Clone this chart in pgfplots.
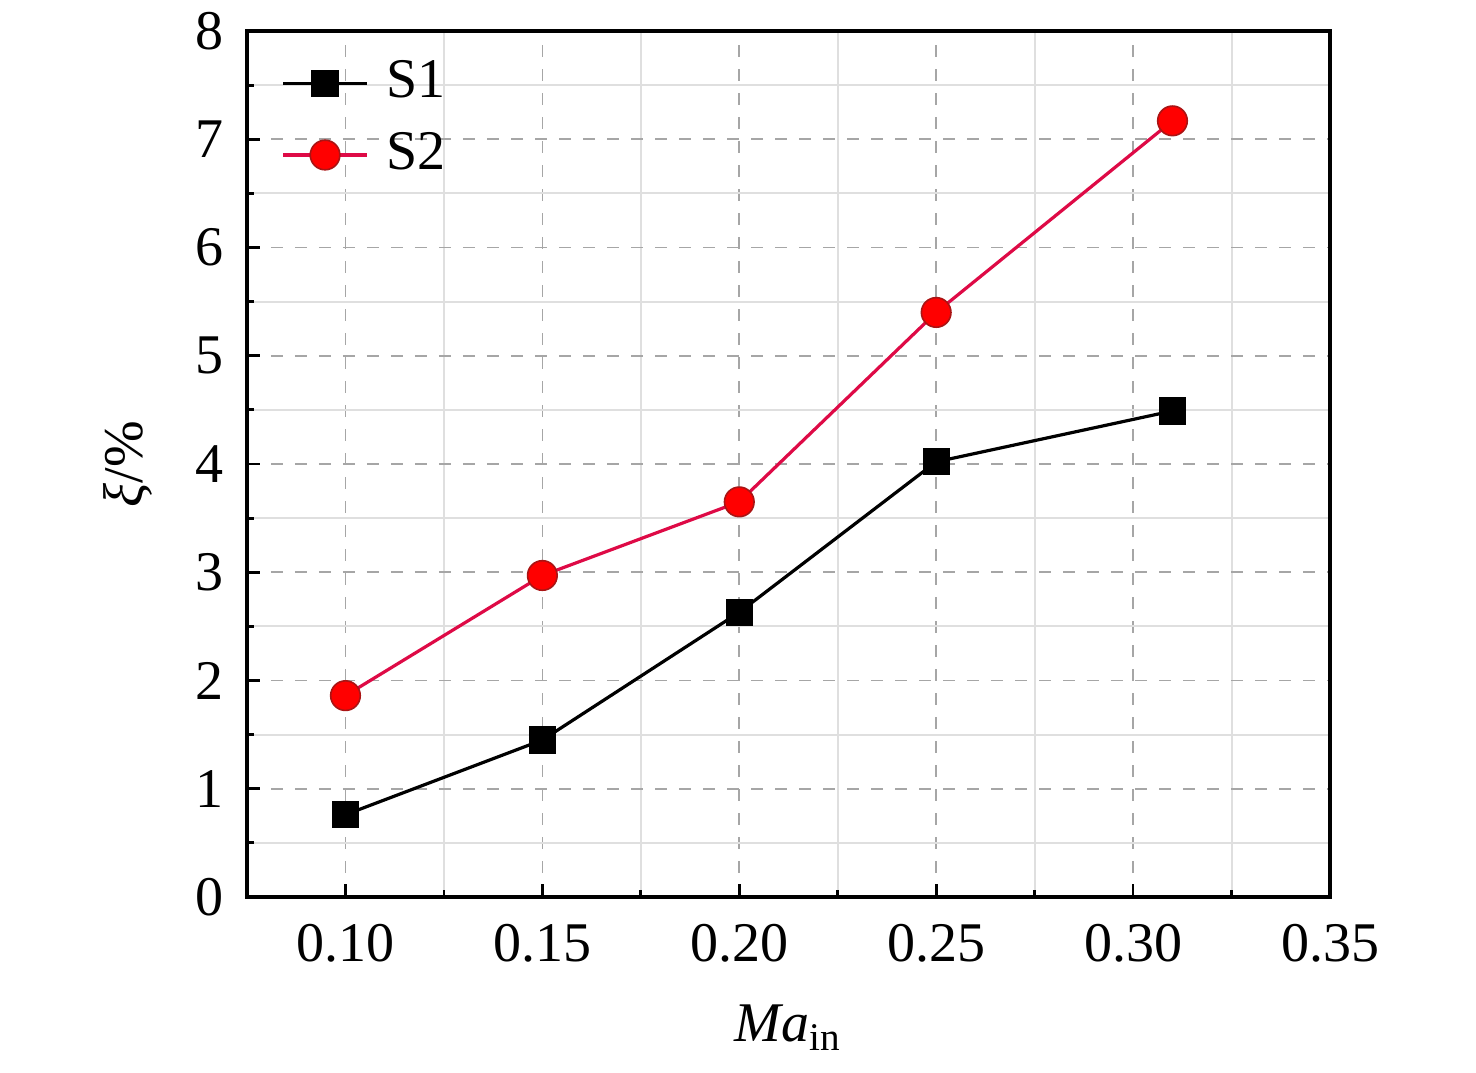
\documentclass[border=0pt]{standalone}
\usepackage{pgfplots}
\pgfplotsset{compat=1.18}
\usepackage{fontspec}
\setmainfont{Liberation Serif}
\definecolor{sred}{RGB}{222,10,70}
\definecolor{mred}{RGB}{255,0,0}
\definecolor{mredd}{RGB}{170,20,20}
\begin{document}
\fontsize{14}{16.8}\selectfont
\begin{tikzpicture}
\begin{axis}[
  name=ax,
  scale only axis,
  width=270.75pt, height=216.5pt,
  xmin=0.075, xmax=0.35, ymin=0, ymax=8,
  xtick={0.10,0.15,...,0.35},
  xticklabels={0.10,0.15,0.20,0.25,0.30,0.35},
  ytick={0,1,...,8},
  minor x tick num=1, minor y tick num=1,
  tick align=inside,
  xtick pos=bottom, ytick pos=left,
  major tick length=3.3pt, minor tick length=1.8pt,
  every tick/.style={black, line width=0.7pt},
  axis line style={line width=0.8pt},
  grid=both,
  major grid style={gray!70, dashed, line width=0.4pt},
  minor grid style={gray!25, line width=0.5pt},
  tick label style={font=\fontsize{14}{16.8}\selectfont},
  /pgf/number format/assume math mode=true,
  xticklabel style={yshift=-2pt},
  yticklabel style={xshift=-1pt},
  xlabel={\textit{Ma}\textsubscript{in}},
  ylabel={\textit{ξ}/\%},
  label style={font=\fontsize{14}{16.8}\selectfont},
  xlabel style={at={(axis description cs:0.5,-0.102)}, anchor=north},
  ylabel style={at={(axis description cs:-0.11,0.5)}, anchor=center},
  legend style={at={(axis description cs:0.02,0.985)}, anchor=north west,
    draw=none, fill=none, font=\fontsize{14}{16.8}\selectfont,
    row sep=2.5pt, /tikz/every odd column/.append style={column sep=2.5pt}},
  legend cell align=left,
  legend image code/.code={\draw[mark repeat=2,mark phase=2] plot coordinates {(0pt,0pt) (10.5pt,0pt) (21pt,0pt)};},
  clip=false,
]
\addplot[black, line width=0.8pt, mark=square*, mark size=3pt, mark options={solid, fill=black}]
  coordinates {(0.10,0.76) (0.15,1.45) (0.20,2.63) (0.25,4.02) (0.31,4.49)};
\addlegendentry{S1}
\addplot[sred, line width=0.8pt, mark=*, mark size=3.7pt, mark options={solid, fill=mred, draw=mredd, line width=0.4pt}]
  coordinates {(0.10,1.86) (0.15,2.97) (0.20,3.65) (0.25,5.40) (0.31,7.17)};
\addlegendentry{S2}
\end{axis}
\pgfresetboundingbox
\path[use as bounding box] ([xshift=-61.75pt,yshift=-44pt]ax.south west) rectangle ([xshift=36.5pt,yshift=7.75pt]ax.north east);
\end{tikzpicture}
\end{document}
